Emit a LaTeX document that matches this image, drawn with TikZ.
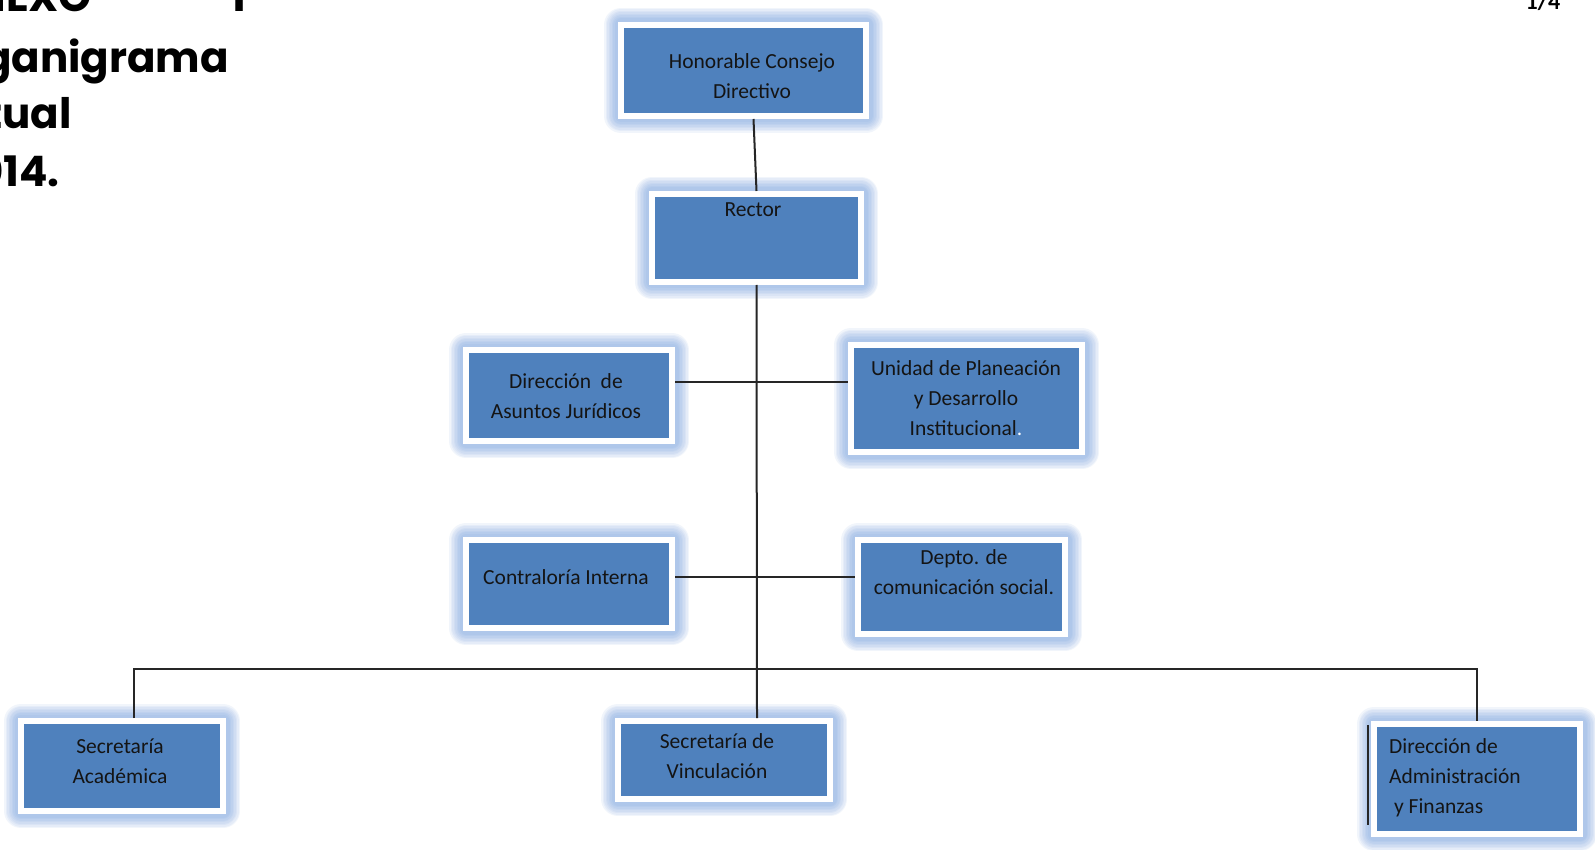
\documentclass[tikz,border=0pt]{standalone}
\usepackage{fontspec}
\setmainfont{Carlito}
\newfontfamily\titlefont{Poppins}
\usetikzlibrary{calc}
\definecolor{boxblue}{RGB}{79,129,189}
\definecolor{glowblue}{RGB}{110,155,220}
\definecolor{txtdark}{RGB}{20,20,20}
\tikzset{
  gl/.style={preaction={draw=glowblue, line width=#1, opacity=.09, line join=round}},
  orgbox/.style={rectangle, inner sep=0pt, fill=boxblue, draw=white, line width=6pt,
    gl=34pt, gl=31pt, gl=28pt, gl=25pt, gl=22pt, gl=19pt, gl=16pt, gl=13pt},
  boxtxt/.style={text=txtdark, font=\fontsize{21.5}{30}\selectfont, align=center, inner sep=0pt},
  conn/.style={draw=black!85, line width=2pt},
  ttl/.style={font=\titlefont\bfseries\fontsize{42}{50}\selectfont, inner sep=0pt, anchor=base east}
}
\begin{document}
\begin{tikzpicture}[x=1pt,y=-1pt]
\useasboundingbox (0,0) rectangle (1595,850);
\fill[white] (0,0) rectangle (1595,850);
% title (cut by the page edge)
\begin{scope}
\clip (0,0) rectangle (1595,850);
\node[ttl] (t0) at (92,12) {ANEXO};
\node[ttl] (t1) at (246,12) {1};
\node[ttl] (t2) at (229,73) {Organigrama};
\node[ttl] (t3) at (72,129) {Actual};
\node[ttl] (t4) at (60,187) {2014.};
\node[font=\bfseries\fontsize{24}{26}\selectfont, inner sep=0pt, anchor=base] (pg) at (1543,10) {1/4};
\end{scope}
% boxes
\node[orgbox, minimum width=245pt, minimum height=91pt] (hcd) at (743.5,70.5) {};
\node[orgbox, minimum width=209pt, minimum height=88pt] (rector) at (756.5,238) {};
\node[orgbox, minimum width=206pt, minimum height=91pt] (jur) at (569,395.5) {};
\node[orgbox, minimum width=231pt, minimum height=107pt] (unidad) at (966.5,398.5) {};
\node[orgbox, minimum width=206pt, minimum height=88pt] (contr) at (569,584) {};
\node[orgbox, minimum width=207pt, minimum height=94pt] (depto) at (961.5,587) {};
\node[orgbox, minimum width=202pt, minimum height=90pt] (secac) at (122,766) {};
\node[orgbox, minimum width=212pt, minimum height=78pt] (vinc) at (724,760) {};
\node[orgbox, minimum width=206pt, minimum height=110pt] (adm) at (1477,779) {};
% texts
\node[boxtxt] (hcd-t) at (752,76) {Honorable Consejo\\Directivo};
\node[boxtxt, anchor=north] (rector-t) at (753,203) {Rector};
\node[boxtxt] (jur-t) at (566,396) {Dirección\ \ de\\Asuntos Jurídicos};
\node[boxtxt] (unidad-t) at (966,398) {Unidad de Planeación\\y Desarrollo\\Institucional\textcolor{white}{.}};
\node[boxtxt] (contr-t) at (566,577) {Contraloría Interna};
\node[boxtxt] (depto-t) at (964,572) {Depto. de\\comunicación social.};
\node[boxtxt] (secac-t) at (120,761) {Secretaría\\Académica};
\node[boxtxt] (vinc-t) at (717,756) {Secretaría de\\Vinculación};
\node[boxtxt, align=left, anchor=west] (adm-t) at (1389,778) {Dirección de\\Administración\\\ y Finanzas};
% connector points
\coordinate (r1) at (0,382);
\coordinate (r2) at (0,577);
\coordinate (bl) at (134,669);
\coordinate (bm) at (757,669);
\coordinate (br) at (1477,669);
% connectors
\draw[conn] ([xshift=10pt]hcd.south) -- (rector.north);
\draw[conn] (rector.south) -- (vinc.north -| bm);
\draw[conn] (jur.east |- r1) -- (unidad.west |- r1);
\draw[conn] (contr.east |- r2) -- (depto.west |- r2);
\draw[conn] (secac.north -| bl) -- (bl) -- (br) -- (adm.north);
\draw[conn, line width=1.5pt] ([xshift=-3pt,yshift=-4pt]adm.north west) -- ([xshift=-3pt,yshift=12pt]adm.south west);
\end{tikzpicture}
\end{document}
